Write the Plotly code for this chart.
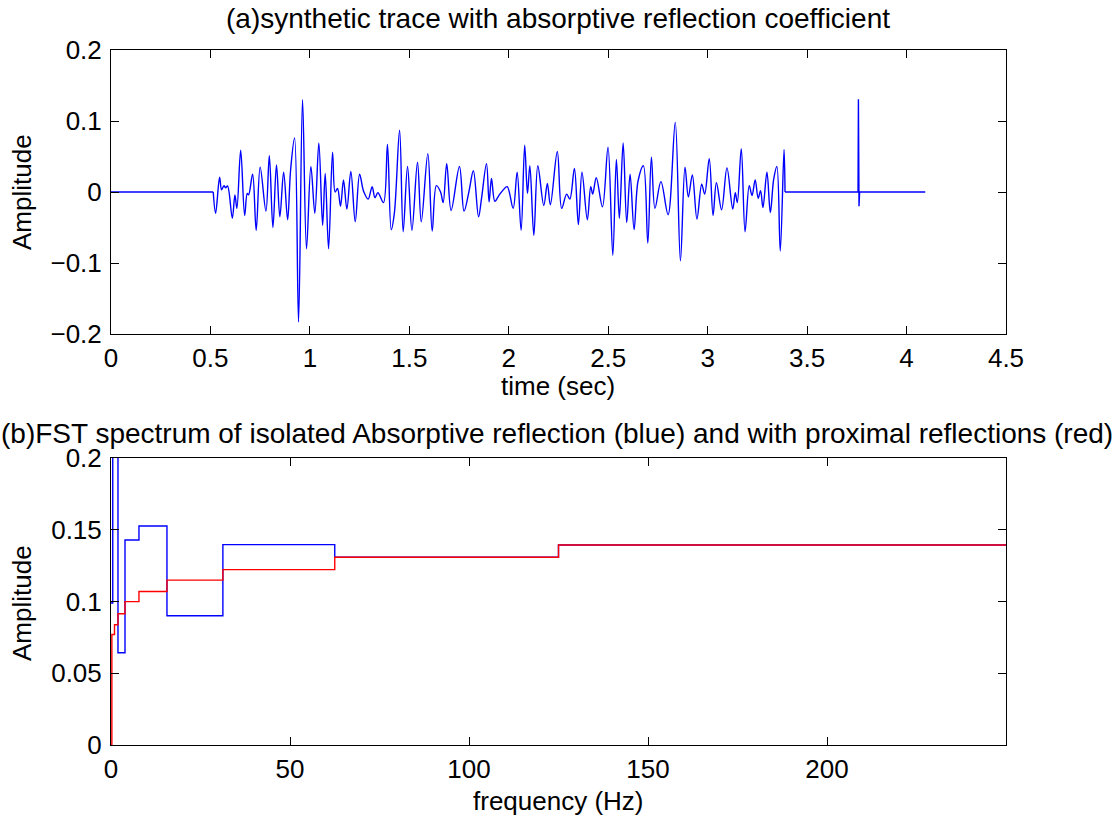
import numpy as np
import plotly.graph_objects as go

# ---- (a) synthetic trace: time (s) and amplitude at the turning points of the trace
time_s = [
    0.000, 0.514, 0.526, 0.546, 0.556, 0.568, 0.576, 0.586, 0.610, 0.623, 0.633, 0.652,
    0.672, 0.685, 0.692, 0.712, 0.730, 0.750, 0.779, 0.796, 0.814, 0.832, 0.849, 0.868,
    0.888, 0.903, 0.923, 0.943, 0.963, 0.983, 1.005, 1.025, 1.045, 1.064, 1.077, 1.094,
    1.114, 1.127, 1.139, 1.154, 1.169, 1.186, 1.206, 1.228, 1.250, 1.270, 1.293, 1.313,
    1.327, 1.342, 1.370, 1.390, 1.409, 1.425, 1.451, 1.469, 1.491, 1.513, 1.541, 1.560,
    1.593, 1.615, 1.636, 1.657, 1.670, 1.688, 1.710, 1.752, 1.775, 1.800, 1.822, 1.848,
    1.863, 1.888, 1.901, 1.913, 1.930, 1.950, 1.972, 1.992, 2.022, 2.042, 2.062, 2.080,
    2.094, 2.106, 2.126, 2.146, 2.176, 2.194, 2.209, 2.244, 2.266, 2.291, 2.307, 2.330,
    2.350, 2.368, 2.395, 2.412, 2.422, 2.440, 2.471, 2.499, 2.523, 2.541, 2.556, 2.575,
    2.593, 2.610, 2.630, 2.650, 2.677, 2.699, 2.717, 2.735, 2.765, 2.801, 2.837, 2.863,
    2.886, 2.903, 2.923, 2.946, 2.970, 2.985, 3.008, 3.027, 3.044, 3.070, 3.097, 3.126,
    3.139, 3.149, 3.169, 3.188, 3.209, 3.223, 3.239, 3.254, 3.266, 3.278, 3.298, 3.315,
    3.332, 3.348, 3.365, 3.384, 3.389,
    3.756, 3.758, 3.761, 3.764, 4.094,
]
amplitude = [
    0.000, 0.000, -0.030, 0.021, 0.003, 0.009, 0.006, 0.0085, -0.037, -0.004, -0.023, 0.059,
    -0.033, -0.002, -0.004, 0.025, -0.054, 0.035, -0.027, 0.051, -0.050, 0.038, -0.035, 0.028,
    -0.039, 0.031, 0.076, -0.183, 0.130, -0.080, 0.036, -0.030, 0.069, -0.047, 0.026, -0.080,
    0.056, 0.000, 0.005, -0.020, 0.017, -0.024, 0.029, -0.042, 0.025, 0.001, -0.010, 0.0075,
    -0.008, -0.001, -0.015, 0.067, -0.053, -0.029, 0.087, -0.056, 0.036, -0.054, 0.042, -0.042,
    0.054, -0.055, 0.009, 0.000, -0.015, 0.040, -0.026, 0.036, -0.027, 0.001, 0.030, -0.035,
    -0.009, 0.040, -0.014, 0.019, -0.013, -0.005, 0.003, 0.0075, -0.023, 0.028, -0.054, 0.066,
    -0.002, 0.037, -0.061, 0.037, -0.019, 0.012, -0.018, 0.057, -0.023, -0.003, -0.010, 0.033,
    -0.046, 0.028, -0.039, 0.0075, -0.003, 0.020, -0.021, 0.063, -0.089, 0.046, -0.037, 0.069,
    -0.043, 0.025, -0.053, 0.0155, 0.037, -0.072, 0.049, -0.023, 0.0146, -0.032, 0.098, -0.097,
    0.035, -0.007, 0.024, -0.038, 0.011, -0.003, 0.047, -0.033, 0.013, -0.025, 0.034, -0.024,
    -0.001, -0.015, 0.061, -0.056, 0.009, -0.005, 0.017, -0.009, 0.002, -0.022, 0.028, -0.029,
    0.018, 0.036, -0.083, 0.060, 0.000,
    0.000, 0.1305, -0.020, 0.000, 0.000,
]

# ---- (b) FST spectrum: band edges (Hz) and band amplitudes
blue_freq = [0.0, 0.49, 1.95, 3.91, 7.81, 15.63, 31.25, 62.5, 125.0, 250.0]
blue_amp = [0.099, 0.40, 0.0643, 0.1429, 0.1526, 0.0901, 0.1396, 0.1308, 0.1394, 0.1394]

red_freq = [0.0, 0.24, 0.98, 1.95, 3.91, 7.81, 15.63, 31.25, 62.5, 125.0, 250.0]
red_amp = [0.0, 0.077, 0.0838, 0.0915, 0.0999, 0.1070, 0.1149, 0.1222, 0.1308, 0.1394, 0.1394]

# ---- layout geometry (pixels)
W, H = 1114, 820
ML, MR, MT, MB = 111, 108, 50, 75
PW, PH = W - ML - MR, H - MT - MB


def py(pix):
    """Pixel row -> paper y."""
    return (H - MB - pix) / PH


def px(pix):
    """Pixel column -> paper x."""
    return (pix - ML) / PW


FONT = "Liberation Sans, Arial, Helvetica, sans-serif"
FS = 26        # tick labels and axis labels
FS_TITLE = 28  # panel titles

t = np.array(time_s)
a = np.array(amplitude)
wiggle = (t >= 0.514) & (t <= 3.389)
flat_lo = t <= 0.514
flat_hi = t >= 3.389

fig = go.Figure()
fig.add_trace(go.Scatter(x=t[flat_lo], y=a[flat_lo], mode="lines",
                         line=dict(color="#0000ff", width=1.4), xaxis="x", yaxis="y",
                         showlegend=False, hoverinfo="skip"))
fig.add_trace(go.Scatter(x=t[wiggle], y=a[wiggle], mode="lines",
                         line=dict(color="#0000ff", width=1.4, shape="spline", smoothing=1.0),
                         xaxis="x", yaxis="y", showlegend=False))
fig.add_trace(go.Scatter(x=t[flat_hi], y=a[flat_hi], mode="lines",
                         line=dict(color="#0000ff", width=1.4), xaxis="x", yaxis="y",
                         showlegend=False))

fig.add_trace(go.Scatter(x=blue_freq, y=blue_amp, mode="lines",
                         line=dict(color="#0000ff", width=1.4, shape="hv"),
                         xaxis="x2", yaxis="y2", showlegend=False))
fig.add_trace(go.Scatter(x=red_freq, y=red_amp, mode="lines",
                         line=dict(color="#ff0000", width=1.4, shape="hv"),
                         xaxis="x2", yaxis="y2", showlegend=False))

axis_common = dict(
    showline=True, linecolor="black", linewidth=1, mirror="ticks",
    ticks="inside", ticklen=8, tickwidth=1, tickcolor="black",
    showgrid=False, zeroline=False,
    tickfont=dict(family=FONT, size=FS, color="black"),
)

top_lo = py(334)
bot_hi = py(458)

title_font = dict(family=FONT, size=FS_TITLE, color="black")

fig.update_layout(
    width=W, height=H,
    margin=dict(l=ML, r=MR, t=MT, b=MB, pad=0),
    paper_bgcolor="white", plot_bgcolor="white",
    font=dict(family=FONT, size=FS, color="black"),
    xaxis=dict(axis_common, domain=[0, 1], range=[0, 4.5], anchor="y",
               tickvals=[0, 0.5, 1, 1.5, 2, 2.5, 3, 3.5, 4, 4.5],
               ticktext=["0", "0.5", "1", "1.5", "2", "2.5", "3", "3.5", "4", "4.5"],
               ticklabelstandoff=1),
    yaxis=dict(axis_common, domain=[top_lo, 1], range=[-0.2, 0.2], anchor="x",
               tickvals=[-0.2, -0.1, 0, 0.1, 0.2],
               ticktext=["\u22120.2", "\u22120.1", "0", "0.1", "0.2"],
               ticklabelstandoff=3),
    xaxis2=dict(axis_common, domain=[0, 1], range=[0, 250], anchor="y2",
                tickvals=[0, 50, 100, 150, 200],
                ticktext=["0", "50", "100", "150", "200"],
                ticklabelstandoff=1),
    yaxis2=dict(axis_common, domain=[0, bot_hi], range=[0, 0.2], anchor="x2",
                tickvals=[0, 0.05, 0.1, 0.15, 0.2],
                ticktext=["0", "0.05", "0.1", "0.15", "0.2"],
                ticklabelstandoff=3),
    annotations=[
        dict(text="(a)synthetic trace with absorptive reflection coefficient",
             x=px(558), y=py(19), xref="paper", yref="paper", font=title_font,
             xanchor="center", yanchor="middle", showarrow=False),
        dict(text="time (sec)", x=px(558), y=py(386), xref="paper", yref="paper",
             xanchor="center", yanchor="middle", showarrow=False),
        dict(text="Amplitude", x=px(22), y=py(192), xref="paper", yref="paper",
             xanchor="center", yanchor="middle", textangle=-90, showarrow=False),
        dict(text="(b)FST spectrum of isolated Absorptive reflection (blue) and with proximal reflections (red)",
             x=px(557), y=py(433), xref="paper", yref="paper", font=title_font,
             xanchor="center", yanchor="middle", showarrow=False),
        dict(text="frequency (Hz)", x=px(558), y=py(801), xref="paper", yref="paper",
             xanchor="center", yanchor="middle", showarrow=False),
        dict(text="Amplitude", x=px(22), y=py(603), xref="paper", yref="paper",
             xanchor="center", yanchor="middle", textangle=-90, showarrow=False),
    ],
)

fig.write_html("out.html")
